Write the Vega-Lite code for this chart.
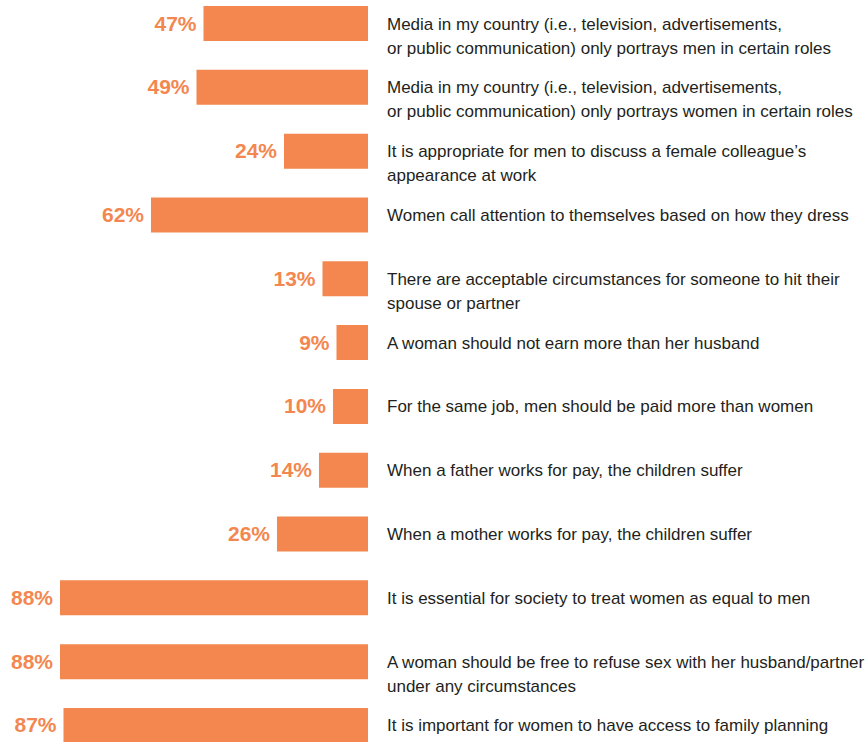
{
  "$schema": "https://vega.github.io/schema/vega-lite/v6.json",
  "width": 865,
  "height": 742,
  "autosize": "none",
  "padding": 0,
  "background": "white",
  "config": {"view": {"stroke": null}},
  "data": {
    "values": [
      {"statement": "Media in my country (i.e., television, advertisements,\nor public communication) only portrays men in certain roles", "pct": 47, "label": "47%"},
      {"statement": "Media in my country (i.e., television, advertisements,\nor public communication) only portrays women in certain roles", "pct": 49, "label": "49%"},
      {"statement": "It is appropriate for men to discuss a female colleague’s\nappearance at work", "pct": 24, "label": "24%"},
      {"statement": "Women call attention to themselves based on how they dress", "pct": 62, "label": "62%"},
      {"statement": "There are acceptable circumstances for someone to hit their\nspouse or partner", "pct": 13, "label": "13%"},
      {"statement": "A woman should not earn more than her husband", "pct": 9, "label": "9%"},
      {"statement": "For the same job, men should be paid more than women", "pct": 10, "label": "10%"},
      {"statement": "When a father works for pay, the children suffer", "pct": 14, "label": "14%"},
      {"statement": "When a mother works for pay, the children suffer", "pct": 26, "label": "26%"},
      {"statement": "It is essential for society to treat women as equal to men", "pct": 88, "label": "88%"},
      {"statement": "A woman should be free to refuse sex with her husband/partner\nunder any circumstances", "pct": 88, "label": "88%"},
      {"statement": "It is important for women to have access to family planning", "pct": 87, "label": "87%"}
    ]
  },
  "encoding": {
    "y": {
      "field": "statement",
      "type": "nominal",
      "sort": null,
      "axis": null,
      "scale": {"range": [0, 749], "paddingInner": 0.4514, "paddingOuter": 0.094}
    }
  },
  "layer": [
    {
      "mark": {"type": "bar", "color": "#F3874F"},
      "encoding": {
        "x": {"field": "pct", "type": "quantitative", "axis": null, "scale": {"domain": [-142, 105.14], "reverse": true, "nice": false, "zero": false}},
        "x2": {"datum": 0}
      }
    },
    {
      "mark": {"type": "text", "align": "right", "baseline": "middle", "dx": -7, "dy": 1, "font": "Liberation Sans", "fontSize": 21, "fontWeight": "bold", "color": "#F3874F"},
      "encoding": {
        "x": {"field": "pct", "type": "quantitative"},
        "text": {"field": "label"}
      }
    },
    {
      "mark": {"type": "text", "align": "left", "baseline": "alphabetic", "dx": 19, "dy": 6, "lineBreak": "\n", "lineHeight": 24, "font": "Liberation Sans", "fontSize": 17, "color": "#231F20"},
      "encoding": {
        "x": {"datum": 0},
        "text": {"field": "statement"}
      }
    }
  ]
}
